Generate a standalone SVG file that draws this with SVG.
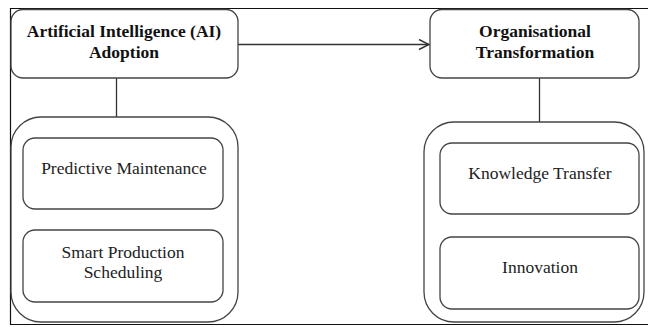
<svg xmlns="http://www.w3.org/2000/svg" width="648" height="327" viewBox="0 0 648 327">
<style>
.box{fill:#fff;stroke:#444;stroke-width:1.3}
.title{font-family:"Liberation Serif","Times New Roman",serif;font-weight:bold;font-size:17.5px;fill:#111;text-anchor:middle}
.lbl{font-family:"Liberation Serif","Times New Roman",serif;font-size:17.5px;fill:#222;text-anchor:middle}
.con{stroke:#333;stroke-width:1.3;fill:none}
</style>
<defs>
<marker id="arr" viewBox="0 0 12 12" refX="11" refY="6" markerWidth="12" markerHeight="12" markerUnits="userSpaceOnUse" orient="auto">
<path d="M1,1 L11,6 L1,11" fill="none" stroke="#333" stroke-width="1.5"/>
</marker>
</defs>
<rect x="0" y="0" width="648" height="327" fill="#fff"/>
<path d="M648,8.5 H10.5 V324.5 H648" fill="none" stroke="#111" stroke-width="1.2"/>
<g id="connectors">
<line class="con" x1="238" y1="44.5" x2="429" y2="44.5" marker-end="url(#arr)"/>
<line class="con" x1="116.5" y1="78" x2="116.5" y2="117"/>
<line class="con" x1="539.5" y1="78" x2="539.5" y2="122"/>
</g>
<g id="ai-adoption">
<rect class="box" x="11" y="9.5" width="227" height="68.5" rx="12"/>
<text class="title" x="124" y="37">Artificial Intelligence (AI)</text>
<text class="title" x="124" y="58">Adoption</text>
</g>
<g id="org-transformation">
<rect class="box" x="430" y="9.5" width="209" height="68.5" rx="12"/>
<text class="title" x="535" y="37">Organisational</text>
<text class="title" x="535" y="58">Transformation</text>
</g>
<g id="ai-group">
<rect class="box" x="11" y="117" width="227" height="205" rx="30"/>
</g>
<g id="predictive-maintenance">
<rect class="box" x="23" y="138" width="200" height="71" rx="12"/>
<text class="lbl" x="124" y="174">Predictive Maintenance</text>
</g>
<g id="smart-production-scheduling">
<rect class="box" x="23" y="230" width="200" height="72" rx="12"/>
<text class="lbl" x="123" y="258">Smart Production</text>
<text class="lbl" x="123" y="278">Scheduling</text>
</g>
<g id="org-group">
<rect class="box" x="424" y="122" width="220" height="200" rx="30"/>
</g>
<g id="knowledge-transfer">
<rect class="box" x="440" y="143" width="199" height="71" rx="12"/>
<text class="lbl" x="540" y="179">Knowledge Transfer</text>
</g>
<g id="innovation">
<rect class="box" x="440" y="237" width="199" height="72" rx="12"/>
<text class="lbl" x="540" y="273">Innovation</text>
</g>
</svg>
